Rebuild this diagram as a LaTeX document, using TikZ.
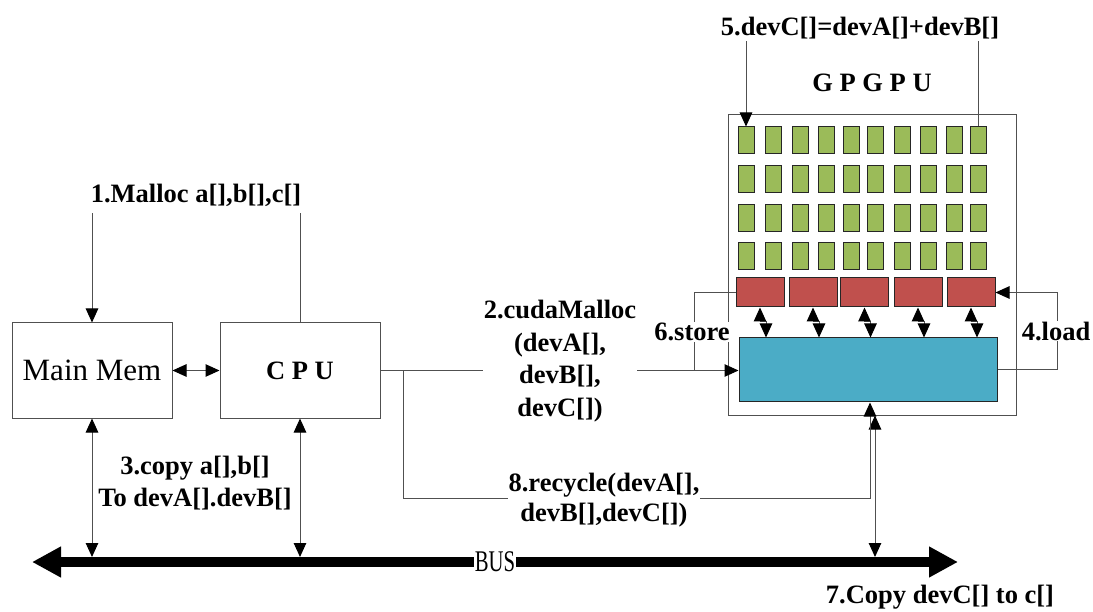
\documentclass[tikz,border=0pt]{standalone}
\usepackage{fontspec}
\usepackage{graphicx}
\setmainfont{Liberation Serif}
\usetikzlibrary{arrows.meta}
\definecolor{cellgreen}{HTML}{9BBB59}
\definecolor{regred}{HTML}{C0504D}
\definecolor{memblue}{HTML}{4BACC6}
\definecolor{wirecol}{HTML}{505050}

\begin{document}
\begin{tikzpicture}[x=1pt,y=-1pt,
  >={Triangle[length=14pt,width=12.5pt,color=black]},
  wire/.style={draw=wirecol,line width=1pt},
  box/.style={draw=wirecol,line width=1pt,inner sep=0pt},
  lbl/.style={font=\fontsize{26.5}{32.5}\selectfont\bfseries,align=center,inner sep=1pt},
  mask/.style={fill=white},
  cell/.style={draw=black!85,line width=1pt,fill=cellgreen,minimum width=16pt,minimum height=27pt,inner sep=0pt},
  reg/.style={draw=black!85,line width=1pt,fill=regred,minimum height=29pt,minimum width=48pt,inner sep=0pt},
  bigtip/.style={line width=10pt,{Triangle[length=29pt,width=29pt]}-{Triangle[length=29pt,width=29pt]}}
]
\useasboundingbox (0,0) rectangle (1093,612);

% host side
\node[box,minimum width=160pt,minimum height=95pt,font=\fontsize{31}{31}\selectfont] (mm) at (92,370.5) {Main Mem};
\node[box,minimum width=160pt,minimum height=95pt,font=\fontsize{26.5}{26.5}\selectfont\bfseries] (cpu) at (300,370.5) {C P U};

% device frame and its parts
\node[box,minimum width=288pt,minimum height=300pt] (gpu) at (872,265) {};
\node[lbl] (gpgpu) at (872,83) {G P G P U};
\foreach \c/\x in {1/746,2/773,3/800,4/826,5/851,6/875,7/902,8/928,9/954,10/978}
  \foreach \r/\y in {1/140.5,2/179,3/218,4/256.5}
    \node[cell] (g-\r-\c) at (\x,\y) {};
\foreach \i/\x in {1/760,2/813,3/864.5,4/918,5/971}
  \node[reg] (r\i) at (\x,292.5) {};
\node[draw=black!85,line width=1pt,fill=memblue,minimum width=258pt,minimum height=64pt,inner sep=0pt] (shared) at (868,370) {};

% register <-> shared memory links
\foreach \i in {1,...,5}
  \draw[wire,<->] (r\i.south) -- ++(0,14) -- ++(6,0) coordinate (k\i) -- (k\i |- shared.north);

% system bus
\coordinate (busL) at (32,562);
\coordinate (busR) at (958,562);
\draw[bigtip] (busL) -- (busR);
\node[fill=white,inner sep=0.5pt,font=\fontsize{30}{30}\selectfont] (bus) at (495,562) {\scalebox{0.69}[1]{BUS}};
\coordinate (b1) at (92,557);
\coordinate (b2) at (300,557);
\coordinate (b3) at (875,557);
\draw[wire,<->] (mm.south) -- (b1);
\draw[wire,<->] (cpu.south) -- (b2);
\draw[wire,<->] (b3) -- (b3 |- gpu.south);

% host connections
\draw[wire,<->] (mm) -- (cpu);
\node[lbl,inner ysep=7pt] (mal) at (196,195) {1.Malloc a[],b[],c[]};
\draw[wire,->] (mm.north |- mal.south) -- (mm.north);
\draw[wire] (cpu.north |- mal.south) -- (cpu.north);

% cpu to device
\draw[wire,->] (cpu.east) -- (cpu.east -| shared.west);
\coordinate (split) at (403,370.5);
\coordinate (rec) at (870,498);
\draw[wire,->] (split) |- (rec) -- (rec |- shared.south);
\coordinate (st) at (694,370.5);
\draw[wire] (r1.west) -| (st);
\draw[wire,->] (shared.east) -- ++(60,0) coordinate (ld) |- (r5.east);

% kernel operands
\node[lbl,inner ysep=2pt] (dev) at (860,28) {5.devC[]=devA[]+devB[]};
\draw[wire,->] (g-1-1.north |- dev.south) -- (g-1-1.north);
\draw[wire] (g-1-10.north |- dev.south) -- (g-1-10.north);

% step labels
\node[lbl] (cp) at (195,483) {3.copy a[],b[]\\To devA[].devB[]};
\node[lbl,mask] (cuda) at (560,361) {2.cudaMalloc\\(devA[],\\devB[],\\devC[])};
\node[lbl,mask,font=\fontsize{26.5}{30.5}\selectfont\bfseries] (recy) at (604,500) {8.recycle(devA[],\\devB[],devC[])};
\node[lbl,mask] (store) at (692,332) {6.store};
\node[lbl,mask] (load) at (1056,331) {4.load};
\node[lbl] (back) at (940,597) {7.Copy devC[] to c[]};
\end{tikzpicture}
\end{document}
